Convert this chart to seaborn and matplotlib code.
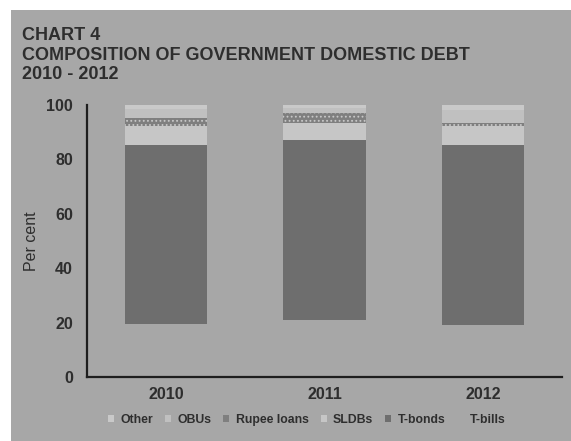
import matplotlib
matplotlib.use("Agg")
import matplotlib.pyplot as plt
import matplotlib.patches as mpatches
import numpy as np
import pandas as pd
import seaborn as sns

# Shares of government domestic debt (per cent), bottom to top of each stack
years = ["2010", "2011", "2012"]
t_bills = [19.5, 21.1, 19.0]
t_bonds = [65.8, 66.1, 66.3]
sldbs = [6.9, 6.2, 6.9]
rupee_loans = [3.1, 3.5, 1.2]
obus = [3.2, 2.0, 4.6]
other = [1.5, 1.1, 2.0]

series_names = ["T-bills", "T-bonds", "SLDBs", "Rupee loans", "OBUs", "Other"]
series_values = [t_bills, t_bonds, sldbs, rupee_loans, obus, other]
legend_order = ["Other", "OBUs", "Rupee loans", "SLDBs", "T-bonds", "T-bills"]

BG = "#a7a7a7"
TXT = "#2e2e2e"
colors = {
    "T-bills": BG,
    "T-bonds": "#6e6e6e",
    "SLDBs": "#c6c6c6",
    "Rupee loans": "#7f7f7f",
    "OBUs": "#c0c0c0",
    "Other": "#c9c9c9",
}

sns.set_theme(style="white")
plt.rcParams["font.family"] = ["Liberation Sans", "DejaVu Sans"]
plt.rcParams["hatch.linewidth"] = 0.8

fig = plt.figure(figsize=(5.71, 4.41), dpi=100, facecolor="white")
# grey panel behind the chart
panel = mpatches.Rectangle((11 / 571, 0), 1, 431 / 441, transform=fig.transFigure,
                           facecolor=BG, edgecolor="none", zorder=-10)
fig.patches.append(panel)

ax = fig.add_axes([87 / 571, 64 / 441, 475 / 571, 272 / 441])
ax.set_zorder(5)
ax.set_facecolor("none")

# cumulative tops, drawn from the top series down so each covers the one below
cum = np.cumsum(np.array(series_values), axis=0)
for i in range(len(series_names) - 1, -1, -1):
    name = series_names[i]
    df = pd.DataFrame({"year": years, "top": cum[i]})
    kw = dict(color=colors[name], saturation=1, width=0.52, linewidth=0)
    if name == "Rupee loans":
        kw.update(hatch="....", edgecolor="#c8c8c8")
    sns.barplot(data=df, x="year", y="top", ax=ax, **kw)

ax.set_ylim(0, 100)
ax.set_xlim(-0.5, 2.5)
ax.set_yticks([0, 20, 40, 60, 80, 100])
ax.set_xticks([0, 1, 2])
ax.set_xticklabels(years, fontsize=11.5, fontweight="bold", color=TXT)
ax.set_xticks([0.5, 1.5, 2.5], minor=True)
ax.tick_params(axis="x", which="major", length=0, pad=7)
ax.tick_params(axis="x", which="minor", length=4, direction="inout", color="#222222", width=1.2)
ax.tick_params(axis="y", length=4, direction="out", color="#222222", width=1.2,
               labelsize=11.5, labelcolor=TXT, pad=6)
for lab in ax.get_yticklabels():
    lab.set_fontweight("bold")
ax.set_xlabel("")
ax.set_ylabel("Per cent", fontsize=11.5, color=TXT, labelpad=5)

for side in ["top", "right"]:
    ax.spines[side].set_visible(False)
for side in ["left", "bottom"]:
    ax.spines[side].set_color("#1e1e1e")
    ax.spines[side].set_linewidth(1.6)

# titles
fig.text(22 / 571, 1 - 40 / 441, "CHART 4", fontsize=13, fontweight="bold", color=TXT)
fig.text(22 / 571, 1 - 60 / 441, "COMPOSITION OF GOVERNMENT DOMESTIC DEBT",
         fontsize=13, fontweight="bold", color=TXT)
fig.text(22 / 571, 1 - 79 / 441, "2010 - 2012", fontsize=13, fontweight="bold", color=TXT)

# legend
handles = [mpatches.Patch(facecolor=colors[n], edgecolor="none", label=n) for n in legend_order]
leg = fig.legend(handles=handles, loc="center", bbox_to_anchor=(0.537, 1 - 420 / 441),
                 ncol=6, frameon=False, fontsize=8.8, handlelength=0.5, handleheight=0.5,
                 handletextpad=0.5, columnspacing=1.0)
for t in leg.get_texts():
    t.set_color(TXT)
    t.set_fontweight("bold")

fig.savefig("out.png", dpi=100, facecolor="white")
